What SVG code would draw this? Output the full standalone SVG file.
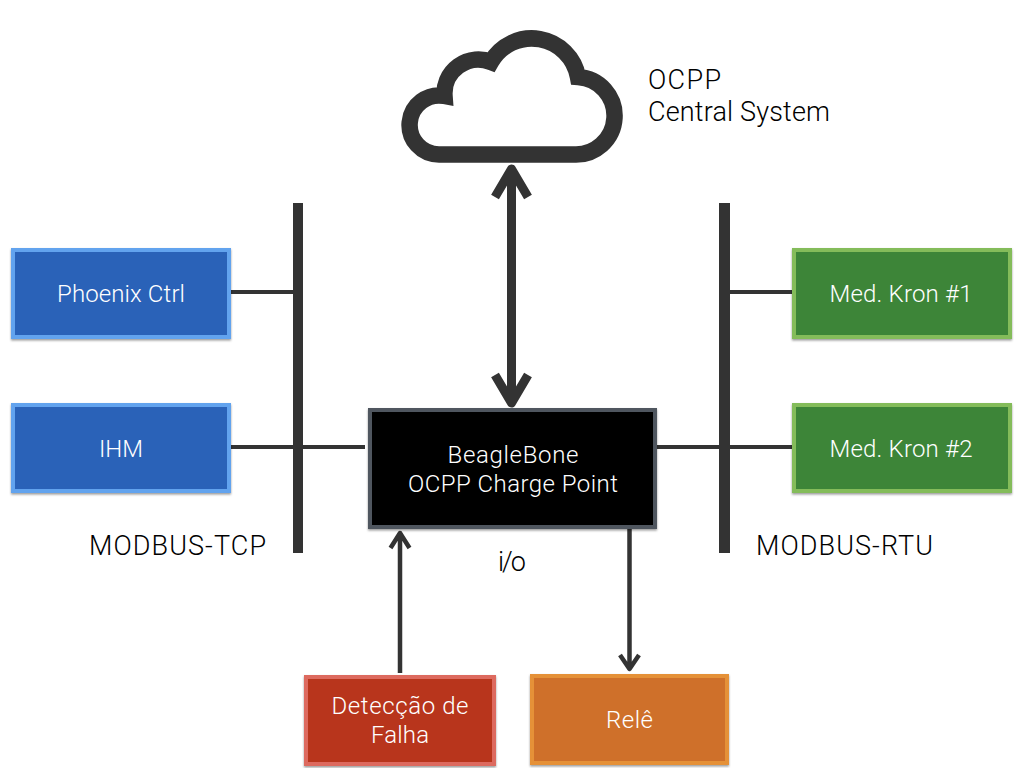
<svg xmlns="http://www.w3.org/2000/svg" width="1024" height="768" viewBox="0 0 1024 768">
<style>
text{font-family:Roboto,"Liberation Sans",sans-serif;font-weight:300;font-size:24px}
.w{fill:#fff;text-anchor:middle}
.d{fill:#000;font-size:27px}
.b{stroke-width:4;filter:url(#s)}
.bar{fill:#333}
.l{fill:none;stroke:#333;stroke-width:4}
.t{fill:none;stroke:#333;stroke-width:9;stroke-linejoin:round}
.h{fill:none;stroke:#333;stroke-width:4.5;stroke-linejoin:round}
</style>
<defs><filter id="s" x="-5%" y="-5%" width="110%" height="112%"><feDropShadow dx="0" dy="1.5" stdDeviation="1.2" flood-color="#000" flood-opacity=".4"/></filter></defs>
<rect width="1024" height="768" fill="#fff"/>
<g id="connectors">
<rect class="bar" x="293" y="203" width="10" height="350"/>
<rect class="bar" x="719" y="203" width="11" height="350"/>
<path class="l" d="M231 292H293M231 447H365M657 447H792M730 292H792"/>
<path class="t" d="M511.5 170V403M495 197L511.5 169L528 197M495 375L511.5 403L528 375"/>
<path class="h" d="M400 673V533M390.500 548L400 533L409.500 548"/>
<path class="h" d="M629.500 529V669M620 655L629.500 669L639 655"/>
</g>
<g id="cloud"><path d="M439 154.500A29.500 29.500 0 1 1 444.500 96A34 34 0 0 1 491 62A47 47 0 0 1 578 77A38.500 38.500 0 0 1 573.500 154.500Z" fill="#fff" stroke="#333" stroke-width="16.500" stroke-linejoin="miter"/></g>
<g id="cloud-label"><text class="d" x="648" y="89" textLength="73">OCPP</text><text class="d" x="648" y="121" textLength="182">Central System</text></g>
<g id="phoenix"><rect class="b" x="13" y="250" width="216" height="87" fill="#2a62b8" stroke="#62a3ee"/><text class="w" x="121" y="302" textLength="128">Phoenix Ctrl</text></g>
<g id="ihm"><rect class="b" x="13" y="405" width="216" height="86" fill="#2a62b8" stroke="#62a3ee"/><text class="w" x="121" y="457">IHM</text></g>
<g id="kron1"><rect class="b" x="794" y="250" width="216" height="87" fill="#3d8538" stroke="#84bc5a"/><text class="w" x="901" y="302" textLength="143">Med. Kron #1</text></g>
<g id="kron2"><rect class="b" x="794" y="405" width="216" height="86" fill="#3d8538" stroke="#84bc5a"/><text class="w" x="901" y="457" textLength="143">Med. Kron #2</text></g>
<g id="beaglebone"><rect class="b" x="370" y="410" width="285" height="117" fill="#000" stroke="#50565f"/><text class="w" x="513" y="463" textLength="131">BeagleBone</text><text class="w" x="513" y="492" textLength="210">OCPP Charge Point</text></g>
<g id="deteccao"><rect class="b" x="306" y="677" width="188" height="87" fill="#b8361c" stroke="#dd6a5e"/><text class="w" x="400" y="714" textLength="137">Detecção de</text><text class="w" x="400" y="743" textLength="58">Falha</text></g>
<g id="rele"><rect class="b" x="532" y="676" width="195" height="87" fill="#cf6f2c" stroke="#e59137"/><text class="w" x="629.500" y="728" textLength="47">Relê</text></g>
<g id="labels"><text class="d" x="89" y="555" textLength="177">MODBUS-TCP</text><text class="d" x="756" y="555" textLength="177">MODBUS-RTU</text><text class="d" x="498" y="571" textLength="28">i/o</text></g>
</svg>
